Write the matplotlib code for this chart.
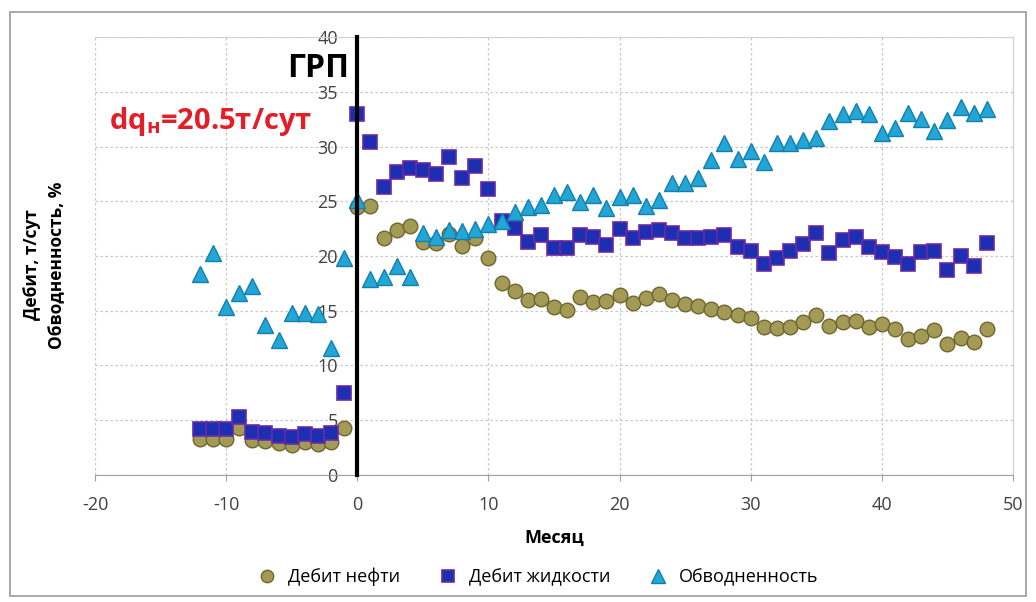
import matplotlib.pyplot as plt
from matplotlib.patches import Rectangle

plt.rcParams['font.family'] = ['Open Sans', 'DejaVu Sans']
plt.rcParams['mathtext.fontset'] = 'custom'
plt.rcParams['mathtext.rm'] = 'Open Sans:bold'
plt.rcParams['mathtext.bf'] = 'Open Sans:bold'
plt.rcParams['axes.unicode_minus'] = False

# months relative to fracturing (ГРП)
months = list(range(-12, 49))

oil = [3.3, 3.3, 3.3, 4.3, 3.2, 3.1, 2.9, 2.7, 3.0, 2.8, 3.0, 4.3,
       24.5, 24.6, 21.6, 22.4, 22.7, 21.3, 21.2, 22.0, 20.9, 21.6, 19.8,
       17.5, 16.8, 16.0, 16.1, 15.3, 15.1, 16.3, 15.8, 15.9, 16.4, 15.7, 16.2, 16.5,
       16.0, 15.6, 15.4, 15.2, 14.9, 14.6, 14.3, 13.5, 13.4, 13.5, 14.0, 14.6, 13.6,
       14.0, 14.1, 13.5, 13.8, 13.3, 12.4, 12.7, 13.2, 12.0, 12.5, 12.1, 13.3]

liquid = [4.2, 4.2, 4.2, 5.3, 3.9, 3.8, 3.6, 3.5, 3.7, 3.6, 3.8, 7.5,
          33.0, 30.4, 26.3, 27.7, 28.0, 27.9, 27.5, 29.0, 27.1, 28.2, 26.1,
          23.2, 22.6, 21.3, 21.9, 20.7, 20.7, 21.9, 21.7, 21.0, 22.5, 21.6, 22.2, 22.4,
          22.1, 21.6, 21.6, 21.7, 21.9, 20.8, 20.5, 19.3, 19.8, 20.5, 21.1, 22.1, 20.3,
          21.5, 21.7, 20.8, 20.4, 19.9, 19.3, 20.4, 20.5, 18.7, 20.0, 19.1, 21.2]

watercut = [18.4, 20.3, 15.3, 16.6, 17.3, 13.7, 12.3, 14.8, 14.8, 14.7, 11.6, 19.8,
            25.1, 17.9, 18.1, 19.1, 18.1, 22.1, 21.7, 22.4, 22.3, 22.5, 22.9,
            23.2, 24.0, 24.5, 24.7, 25.6, 25.8, 24.9, 25.6, 24.4, 25.4, 25.6, 24.6, 25.1,
            26.7, 26.7, 27.1, 28.8, 30.3, 28.9, 29.6, 28.6, 30.3, 30.3, 30.6, 30.8, 32.3,
            33.0, 33.2, 33.0, 31.2, 31.7, 33.1, 32.5, 31.4, 32.4, 33.6, 33.1, 33.4]

labels = ['Дебит нефти', 'Дебит жидкости', 'Обводненность']

fig = plt.figure(figsize=(10.36, 6.02), dpi=100)
ax = fig.add_axes([0.0917, 0.211, 0.8861, 0.7275])

ax.plot(months, oil, 'o', ms=10.5, mfc='#a39a55', mec='#6e6630', mew=1.0,
        label=labels[0], zorder=3)
ax.plot(months, liquid, 's', ms=10, mfc='#1c2fb0', mec='#6a2aa8', mew=1.2,
        label=labels[1], zorder=4)
ax.plot(months, watercut, '^', ms=11.5, mfc='#22a6d6', mec='#137fae', mew=1.0,
        label=labels[2], zorder=5)

ax.set_xlim(-20, 50)
ax.set_ylim(0, 40)
ax.set_xticks(range(-20, 51, 10))
ax.set_yticks(range(0, 41, 5))
ax.grid(True, color='#c8c8c8', linestyle=(0, (2, 2)), linewidth=0.9)
ax.set_axisbelow(True)

ax.spines['left'].set_position(('data', 0))
ax.spines['left'].set_linewidth(3)
ax.spines['left'].set_color('black')
ax.spines['left'].set_zorder(6)
ax.spines['bottom'].set_color('#a0a0a0')
ax.spines['top'].set_color('#d0d0d0')
ax.spines['right'].set_color('#d0d0d0')
ax.tick_params(axis='both', labelsize=13, colors='#404040')
ax.tick_params(axis='y', length=0, pad=14)
ax.tick_params(axis='x', length=4, color='#a0a0a0', pad=11)

ax.set_xlabel('Месяц', fontsize=13, fontweight='bold', labelpad=11)
fig.text(0.043, 0.56, 'Дебит, т/сут\nОбводненность, %', rotation=90,
         ha='center', va='center', fontsize=12.5, fontweight='bold',
         linespacing=1.45)

ax.text(-0.6, 37.1, 'ГРП', ha='right', va='center', fontsize=23,
        fontweight='bold', color='black', zorder=7)
ax.text(-18.9, 32.3, r'dq$_{\mathrm{н}}$=20.5т/сут', ha='left', va='center',
        fontsize=21, fontweight='bold', color='#e21f26', zorder=7)

ax.legend(loc='upper center', bbox_to_anchor=(0.478, -0.175), ncol=3,
          frameon=False, fontsize=13, handletextpad=0.2, columnspacing=1.6,
          markerscale=0.85)

fig.patches.append(Rectangle((0.01, 0.01), 0.98, 0.97, transform=fig.transFigure,
                             fill=False, edgecolor='#9a9a9a', linewidth=1.2))

fig.savefig('out.png', dpi=100)
